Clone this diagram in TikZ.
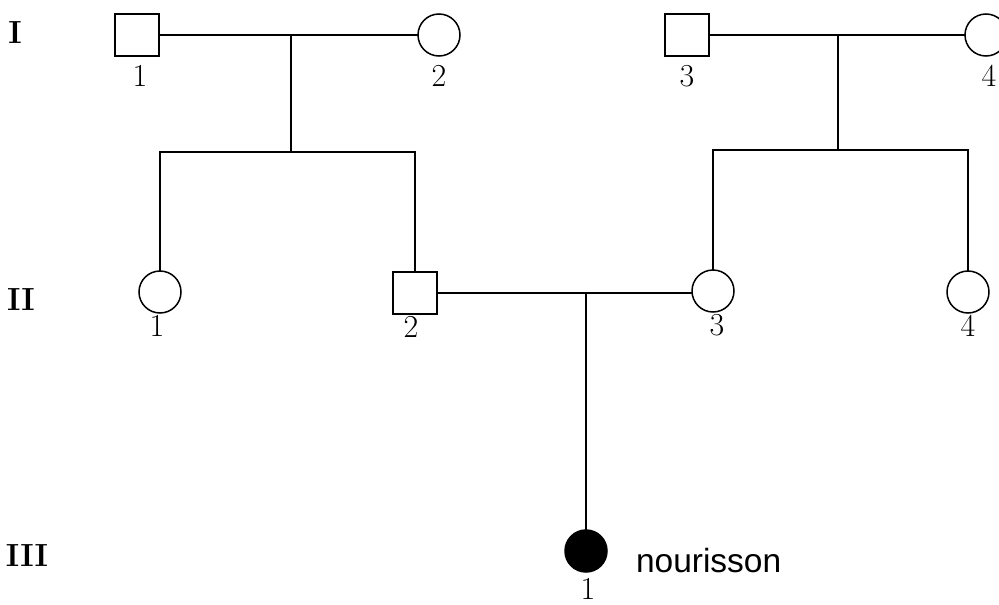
\documentclass[tikz,border=0pt]{standalone}
\usepackage{fontspec}
\newfontfamily\arialfont{Liberation Sans}
\usetikzlibrary{positioning,calc}

\begin{document}
\begin{tikzpicture}[
    x=1pt,y=-1pt,line width=1.5pt,
    every node/.style = {outer sep=0pt,inner sep=0pt},
    male/.style = {draw,rectangle,minimum width=44pt,minimum height=42pt},
    female/.style = {draw,circle,minimum size=42pt},
    affected/.style = {fill=black},
    num/.style = {font=\fontsize{32}{32}\selectfont},
    gen/.style = {font=\fontsize{32}{32}\selectfont\bfseries},
    ]
    \clip (0,0) rectangle (999,605);
    % generation I
    \node[male] (I-1) at (137,35) {};
    \node[female] (I-2) at (439,35) {};
    \node[male] (I-3) at (687,35) {};
    \node[female] (I-4) at (986,35) {};
    % generation II
    \node[female] (II-1) at (160,292) {};
    \node[male] (II-2) at (415,293) {};
    \node[female] (II-3) at (713,291) {};
    \node[female] (II-4) at (968,292) {};
    % generation III
    \node[female,affected] (III-1) at (586,551) {};

    \node[num,below=9pt of I-1,xshift=3pt] (lab-I-1) {1};
    \node[num,below=9pt of I-2] (lab-I-2) {2};
    \node[num,below=9pt of I-3] (lab-I-3) {3};
    \node[num,below=9pt of I-4,xshift=3pt] (lab-I-4) {4};
    \node[num,below=2pt of II-1,xshift=-3pt] (lab-II-1) {1};
    \node[num,below=2pt of II-2,xshift=-4pt] (lab-II-2) {2};
    \node[num,below=2pt of II-3,xshift=4pt] (lab-II-3) {3};
    \node[num,below=2pt of II-4] (lab-II-4) {4};
    \node[num,below=6pt of III-1,xshift=2pt] (lab-III-1) {1};
    \node[right=29pt of III-1,yshift=-10pt,font=\arialfont\fontsize{33.5}{33.5}\selectfont] (txt) {nourisson};

    \node[gen] (gen-I) at (15,33) {I};
    \node[gen] (gen-II) at (21,300) {II};
    \node[gen] (gen-III) at (27,556) {III};

    \coordinate (m-I-l) at (291,35);
    \coordinate (s-I-l) at (291,152);
    \coordinate (m-I-r) at (838,35);
    \coordinate (s-I-r) at (838,150);
    \coordinate (m-II) at (586,293);
    \draw (I-1) -- (I-2)
    (I-3) -- (I-4)
    (II-2.east) -- (II-3.west |- II-2.east)
    ;
    \draw (m-I-l) -- (s-I-l)
    (II-1) |- (s-I-l) -| (II-2)
    ;
    \draw (m-I-r) -- (s-I-r)
    (II-3) |- (s-I-r) -| (II-4)
    ;
    \draw (m-II) -- (III-1);
\end{tikzpicture}
\end{document}
